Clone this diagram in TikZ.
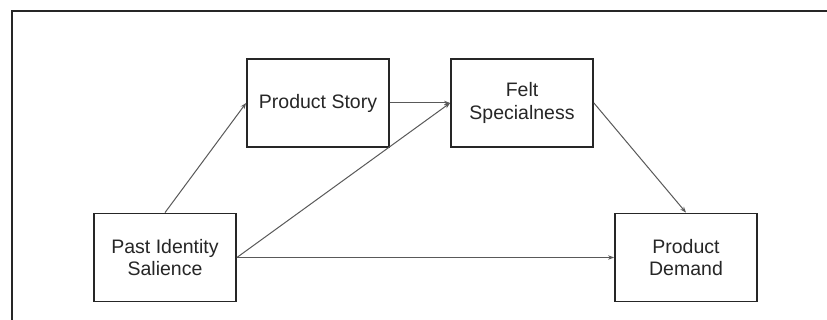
\documentclass[tikz,border=0pt]{standalone}
\usepackage{fontspec}
\setmainfont{Liberation Sans}
\usetikzlibrary{arrows.meta}
\begin{document}
\begin{tikzpicture}[x=1pt,y=-1pt,
  box/.style={draw=black!85,line width=1.8pt,fill=white,minimum width=142pt,minimum height=88pt,inner sep=0pt,align=center,font=\fontsize{19.5}{22.5}\selectfont,text=black!85},
  conn/.style={draw=black!65,line width=1pt,-{Stealth[length=6pt,width=4.5pt]}}]
\useasboundingbox (0,0) rectangle (827,320);
\clip (0,0) rectangle (827,320);
\fill[white] (0,0) rectangle (827,320);
\draw[black!85,line width=2pt] (12,11) rectangle (860,360);
\node[box] (ps) at (318,103) {Product Story};
\node[box] (fs) at (522,103) {Felt\\Specialness};
\node[box] (pis) at (165,257.5) {Past Identity\\Salience};
\node[box] (pd) at (686,257.5) {Product\\Demand};
\draw[conn] (pis.north) -- (ps.west);
\draw[conn] (ps.east) -- (fs.west);
\draw[conn] (pis.east) -- (fs.west);
\draw[conn] (pis.east) -- (pd.west);
\draw[conn] (fs.east) -- (pd.north);
\end{tikzpicture}
\end{document}
